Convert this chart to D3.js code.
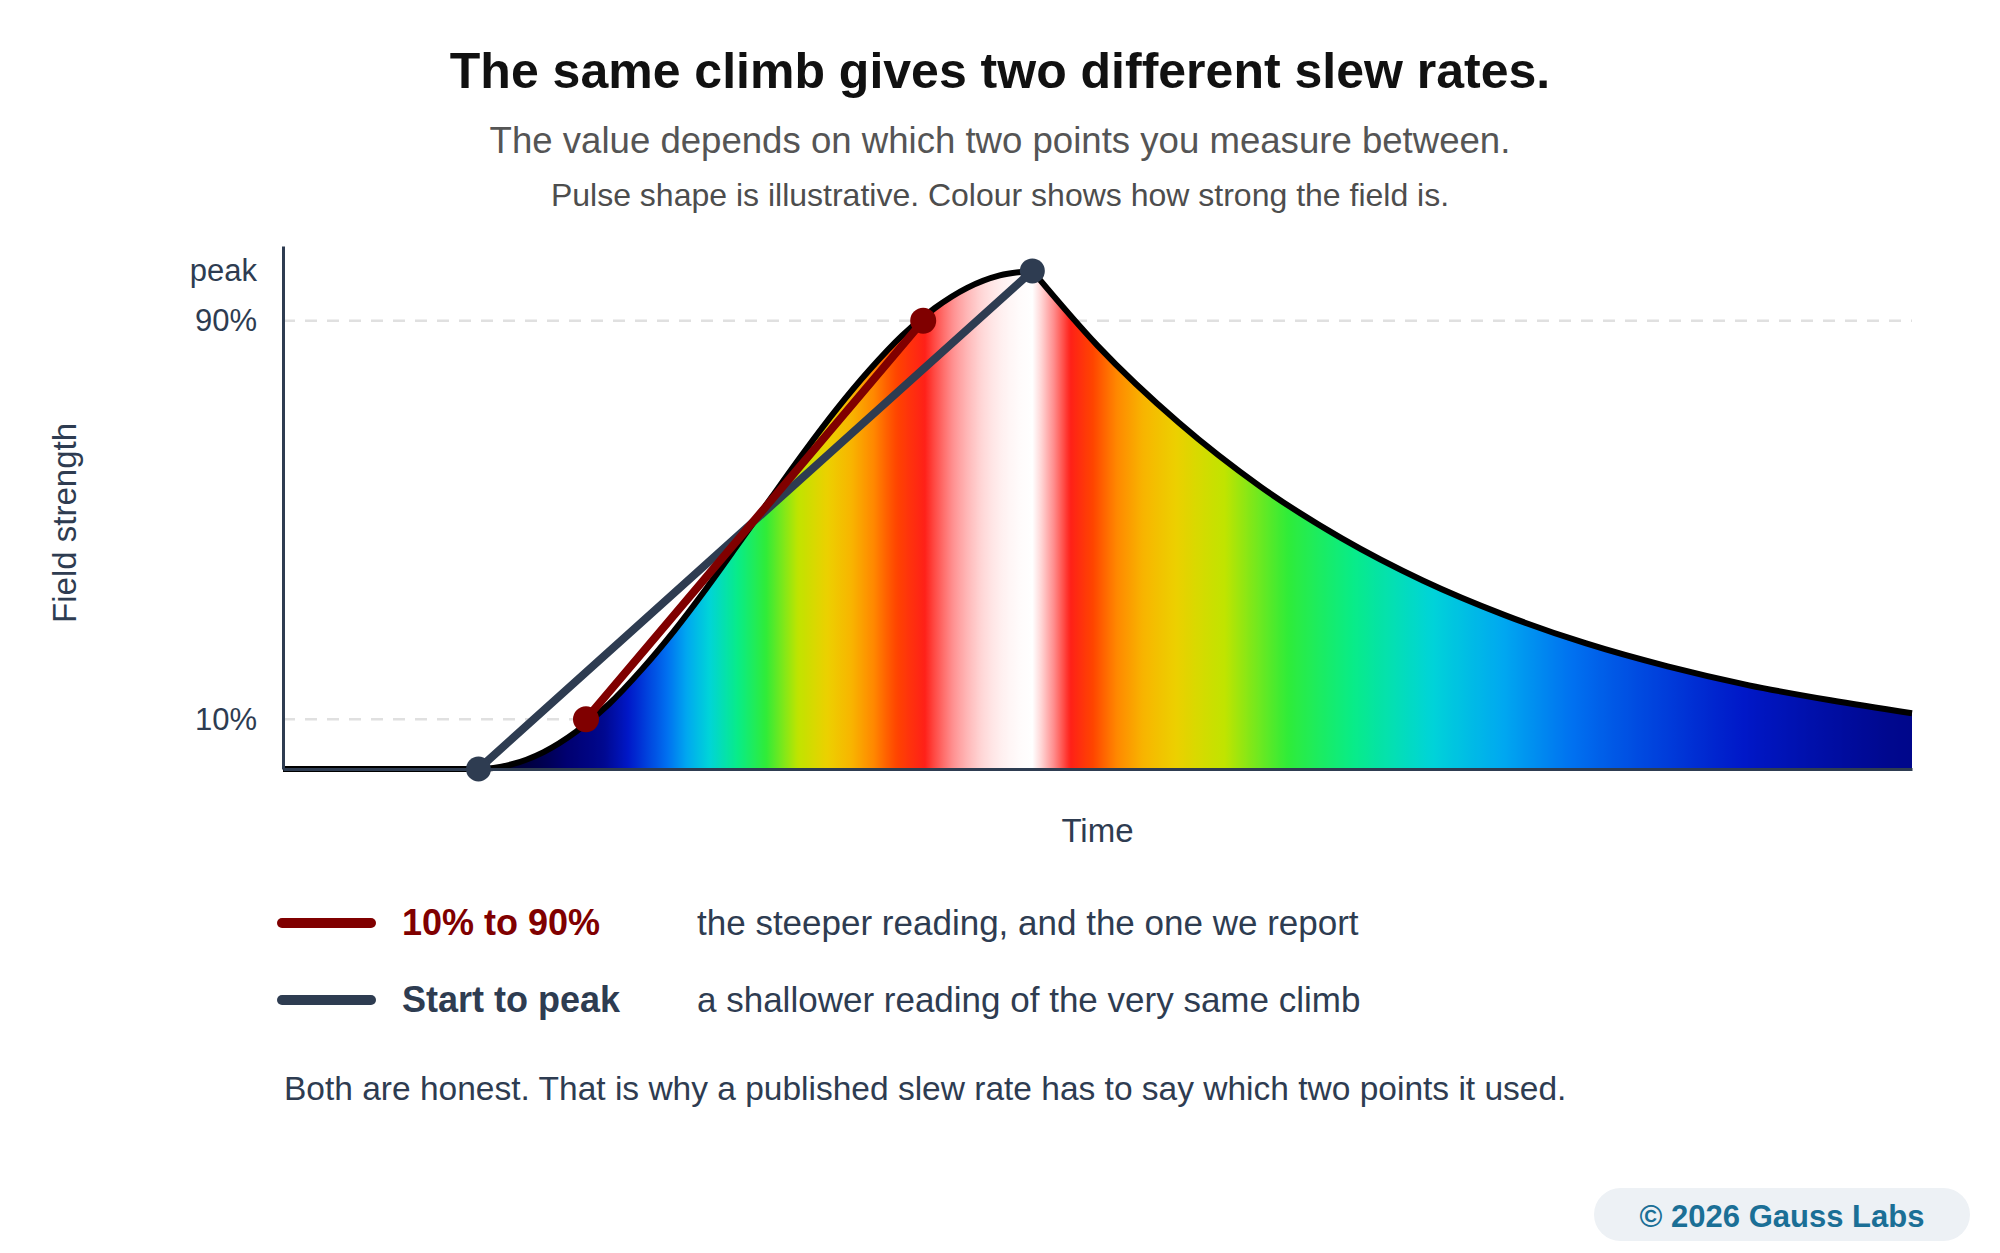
<!DOCTYPE html>
<html>
<head>
<meta charset="utf-8">
<script src="https://cdn.jsdelivr.net/npm/d3@7"></script>
<style>
  body { margin: 0; background: #fff; }
  svg { display: block; font-family: "Liberation Sans", Arial, Helvetica, sans-serif; }
</style>
</head>
<body>
<script>
const WIDTH = 2000
const HEIGHT = 1253

// pulse: time in arbitrary units, value as a share of the peak
const pulseTime = [0, 12, 14, 16, 18, 20, 22, 24, 26, 28, 30, 32, 34, 36, 38, 40, 42, 44, 46,
  50, 55, 60, 65, 70, 75, 80, 85, 90, 95, 100]
const pulseValue = [0, 0, 0.009, 0.034, 0.075, 0.13, 0.199, 0.277, 0.363, 0.454, 0.546, 0.637, 0.723, 0.801, 0.87, 0.925, 0.966, 0.991, 1,
  0.85, 0.695, 0.567, 0.463, 0.378, 0.309, 0.252, 0.206, 0.168, 0.138, 0.112]

const tickValues = [0.1, 0.9, 1]
const tickLabels = ['10%', '90%', 'peak']
const gridValues = [0.1, 0.9]

// the two ways of reading the same climb
const readingNames = ['10% to 90%', 'Start to peak']
const readingNotes = ['the steeper reading, and the one we report', 'a shallower reading of the very same climb']
const readingFromTime = [18.6, 12]
const readingFromValue = [0.1, 0]
const readingToTime = [39.3, 46]
const readingToValue = [0.9, 1]
const readingColors = ['#800000', '#2e3c51']

const SLATE = '#2e3c51'

// field strength -> colour
const colour = d3.scaleLinear()
  .domain([0, 0.06, 0.12, 0.17, 0.21, 0.26, 0.31, 0.37, 0.45, 0.53, 0.62, 0.7, 0.76, 0.81, 0.86, 0.91, 0.95, 0.98, 1])
  .range(['#00002a', '#000070', '#00088f', '#0018c8', '#0040dc', '#0070f0', '#00a8f0', '#00d4d8', '#08ec88', '#30ec38',
    '#c0e400', '#ecd000', '#f8b400', '#ff8800', '#ff4400', '#ff2018', '#ff9090', '#ffd8d8', '#ffffff'])
  .clamp(true)

const x = d3.scaleLinear().domain([0, 100]).range([283, 1912])
const y = d3.scaleLinear().domain([0, 1.05]).range([769, 246])

const svg = d3.select('body').append('svg')
  .attr('width', WIDTH)
  .attr('height', HEIGHT)

// titles
svg.append('text')
  .attr('x', WIDTH / 2).attr('y', 88)
  .attr('text-anchor', 'middle')
  .attr('font-size', 50).attr('font-weight', 'bold').attr('fill', '#111')
  .text('The same climb gives two different slew rates.')
svg.append('text')
  .attr('x', WIDTH / 2).attr('y', 153)
  .attr('text-anchor', 'middle')
  .attr('font-size', 36.6).attr('fill', '#555')
  .text('The value depends on which two points you measure between.')
svg.append('text')
  .attr('x', WIDTH / 2).attr('y', 206)
  .attr('text-anchor', 'middle')
  .attr('font-size', 32).attr('fill', '#4d4d4d')
  .text('Pulse shape is illustrative. Colour shows how strong the field is.')

// gridlines
svg.append('g').selectAll('line')
  .data(gridValues)
  .enter().append('line')
  .attr('x1', x.range()[0]).attr('x2', x.range()[1])
  .attr('y1', d => y(d)).attr('y2', d => y(d))
  .attr('stroke', '#e0e0e0')
  .attr('stroke-width', 2.5)
  .attr('stroke-dasharray', '12 10')

// the pulse: rise and fall joined at the peak so the top stays a cusp
const points = pulseTime.map((t, i) => [t, pulseValue[i]])
const peakIndex = d3.maxIndex(pulseValue)
const line = d3.line()
  .x(d => x(d[0]))
  .y(d => y(d[1]))
  .curve(d3.curveMonotoneX)
const curvePath = line(points.slice(0, peakIndex + 1)) +
  line(points.slice(peakIndex)).replace(/^M/, 'L')
const last = pulseTime[pulseTime.length - 1]
const areaPath = curvePath + 'L' + x(last) + ',' + y(0) + 'L' + x(pulseTime[0]) + ',' + y(0) + 'Z'

const defs = svg.append('defs')
const grad = defs.append('linearGradient')
  .attr('id', 'field')
  .attr('gradientUnits', 'userSpaceOnUse')
  .attr('x1', x(pulseTime[0])).attr('x2', x(last))
  .attr('y1', 0).attr('y2', 0)

svg.append('path')
  .attr('d', areaPath)
  .attr('fill', 'url(#field)')

const outline = svg.append('path')
  .attr('d', curvePath)
  .attr('fill', 'none')
  .attr('stroke', '#000')
  .attr('stroke-width', 6)
  .attr('stroke-linejoin', 'round')

// colour each slice of time by the field value drawn there
const node = outline.node()
const total = node.getTotalLength()
const span = x(last) - x(pulseTime[0])
const samples = d3.range(0, 601).map(i => node.getPointAtLength(total * i / 600))
grad.selectAll('stop')
  .data(samples)
  .enter().append('stop')
  .attr('offset', p => Math.max(0, Math.min(1, (p.x - x(pulseTime[0])) / span)))
  .attr('stop-color', p => colour(y.invert(p.y)))

// axes
const yAxis = svg.append('g')
  .attr('transform', 'translate(' + x.range()[0] + ',0)')
  .call(d3.axisLeft(y).tickValues(tickValues).tickFormat((d, i) => tickLabels[i]).tickSize(0).tickPadding(26))
yAxis.select('.domain').attr('stroke', SLATE).attr('stroke-width', 3)
yAxis.selectAll('text')
  .attr('font-family', null)
  .attr('font-size', 31)
  .attr('fill', SLATE)

const xAxis = svg.append('g')
  .attr('transform', 'translate(0,' + y(0) + ')')
  .call(d3.axisBottom(x).tickValues([]).tickSizeOuter(0))
xAxis.select('.domain').attr('stroke', SLATE).attr('stroke-width', 3)

svg.append('text')
  .attr('transform', 'translate(76,' + ((y(0) + y(1)) / 2 + 3) + ') rotate(-90)')
  .attr('text-anchor', 'middle')
  .attr('font-size', 33).attr('fill', SLATE)
  .text('Field strength')
svg.append('text')
  .attr('x', (x.range()[0] + x.range()[1]) / 2).attr('y', 842)
  .attr('text-anchor', 'middle')
  .attr('font-size', 33).attr('fill', SLATE)
  .text('Time')

// the two readings, start-to-peak underneath
const order = [1, 0]
order.forEach(i => {
  const g = svg.append('g')
  g.append('line')
    .attr('x1', x(readingFromTime[i])).attr('y1', y(readingFromValue[i]))
    .attr('x2', x(readingToTime[i])).attr('y2', y(readingToValue[i]))
    .attr('stroke', readingColors[i])
    .attr('stroke-width', 8)
    .attr('stroke-linecap', 'round')
  g.selectAll('circle')
    .data([[readingFromTime[i], readingFromValue[i]], [readingToTime[i], readingToValue[i]]])
    .enter().append('circle')
    .attr('cx', d => x(d[0]))
    .attr('cy', d => y(d[1]))
    .attr('r', i === 0 ? 13 : 12.5)
    .attr('fill', readingColors[i])
})

// legend
const legend = svg.append('g').selectAll('g')
  .data(readingNames)
  .enter().append('g')
  .attr('transform', (d, i) => 'translate(0,' + (923 + i * 77) + ')')
legend.append('line')
  .attr('x1', 282).attr('x2', 371)
  .attr('stroke', (d, i) => readingColors[i])
  .attr('stroke-width', 10)
  .attr('stroke-linecap', 'round')
legend.append('text')
  .attr('x', 402).attr('y', 12)
  .attr('font-size', 36).attr('font-weight', 'bold')
  .attr('fill', (d, i) => readingColors[i])
  .text(d => d)
legend.append('text')
  .attr('x', 697).attr('y', 12)
  .attr('font-size', 35)
  .attr('fill', SLATE)
  .text((d, i) => readingNotes[i])

svg.append('text')
  .attr('x', 284).attr('y', 1100)
  .attr('font-size', 33.5).attr('fill', SLATE)
  .text('Both are honest. That is why a published slew rate has to say which two points it used.')

// credit badge
svg.append('rect')
  .attr('x', 1594).attr('y', 1188)
  .attr('width', 376).attr('height', 53)
  .attr('rx', 26.5)
  .attr('fill', '#edf1f5')
svg.append('text')
  .attr('x', 1782).attr('y', 1227)
  .attr('text-anchor', 'middle')
  .attr('font-size', 31).attr('font-weight', 'bold')
  .attr('fill', '#1b6f96')
  .text('© 2026 Gauss Labs')
</script>
</body>
</html>
